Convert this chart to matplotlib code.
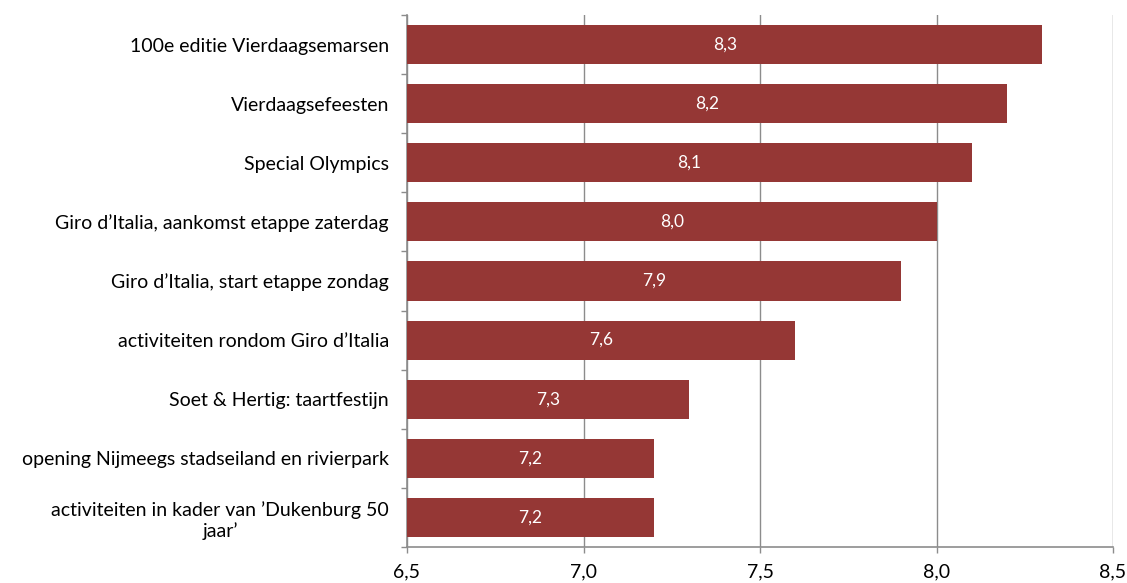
import matplotlib.pyplot as plt
import numpy as np

plt.rcParams['font.family'] = ['Lato', 'DejaVu Sans']

labels = [
    "100e editie Vierdaagsemarsen",
    "Vierdaagsefeesten",
    "Special Olympics",
    "Giro d\u2019Italia, aankomst etappe zaterdag",
    "Giro d\u2019Italia, start etappe zondag",
    "activiteiten rondom Giro d\u2019Italia",
    "Soet & Hertig: taartfestijn",
    "opening Nijmeegs stadseiland en rivierpark",
    "activiteiten in kader van \u2019Dukenburg 50\njaar\u2019",
]
scores = [8.3, 8.2, 8.1, 8.0, 7.9, 7.6, 7.3, 7.2, 7.2]
xticks = [6.5, 7.0, 7.5, 8.0, 8.5]

bar_color = "#953735"
grid_color = "#8c8c8c"

fig = plt.figure(figsize=(11.27, 5.83), dpi=100)
ax = fig.add_axes([407 / 1127, 1 - 547 / 583, (1113 - 407) / 1127, (547 - 15) / 583])

y = np.arange(len(labels))
left = xticks[0]
ax.barh(y, np.array(scores) - left, left=left, height=0.66, color=bar_color, zorder=3)

for yi, v in zip(y, scores):
    ax.text((left + v) / 2, yi, f"{v:.1f}".replace(".", ","), ha="center", va="center",
            color="white", fontsize=12.5, zorder=4)

ax.set_xlim(6.5, 8.5)
ax.set_ylim(len(labels) - 0.5, -0.5)
ax.set_xticks(xticks)
ax.set_xticklabels([f"{t:.1f}".replace(".", ",") for t in xticks], fontsize=14)
ax.xaxis.grid(True, color=grid_color, linewidth=1, zorder=0)

ax.set_yticks(y)
ax.set_yticklabels(labels, fontsize=14, multialignment="center")
ax.tick_params(axis="y", length=0, pad=13)
ax.set_yticks(np.arange(-0.5, len(labels)), minor=True)
ax.tick_params(axis="y", which="minor", length=4.5, color=grid_color, width=1)
ax.tick_params(axis="x", length=4.5, color=grid_color, width=1, pad=7)

for s in ["top", "right"]:
    ax.spines[s].set_visible(False)
for s in ["left", "bottom"]:
    ax.spines[s].set_color(grid_color)
    ax.spines[s].set_linewidth(1.2)

fig.savefig("out.png", dpi=100)
